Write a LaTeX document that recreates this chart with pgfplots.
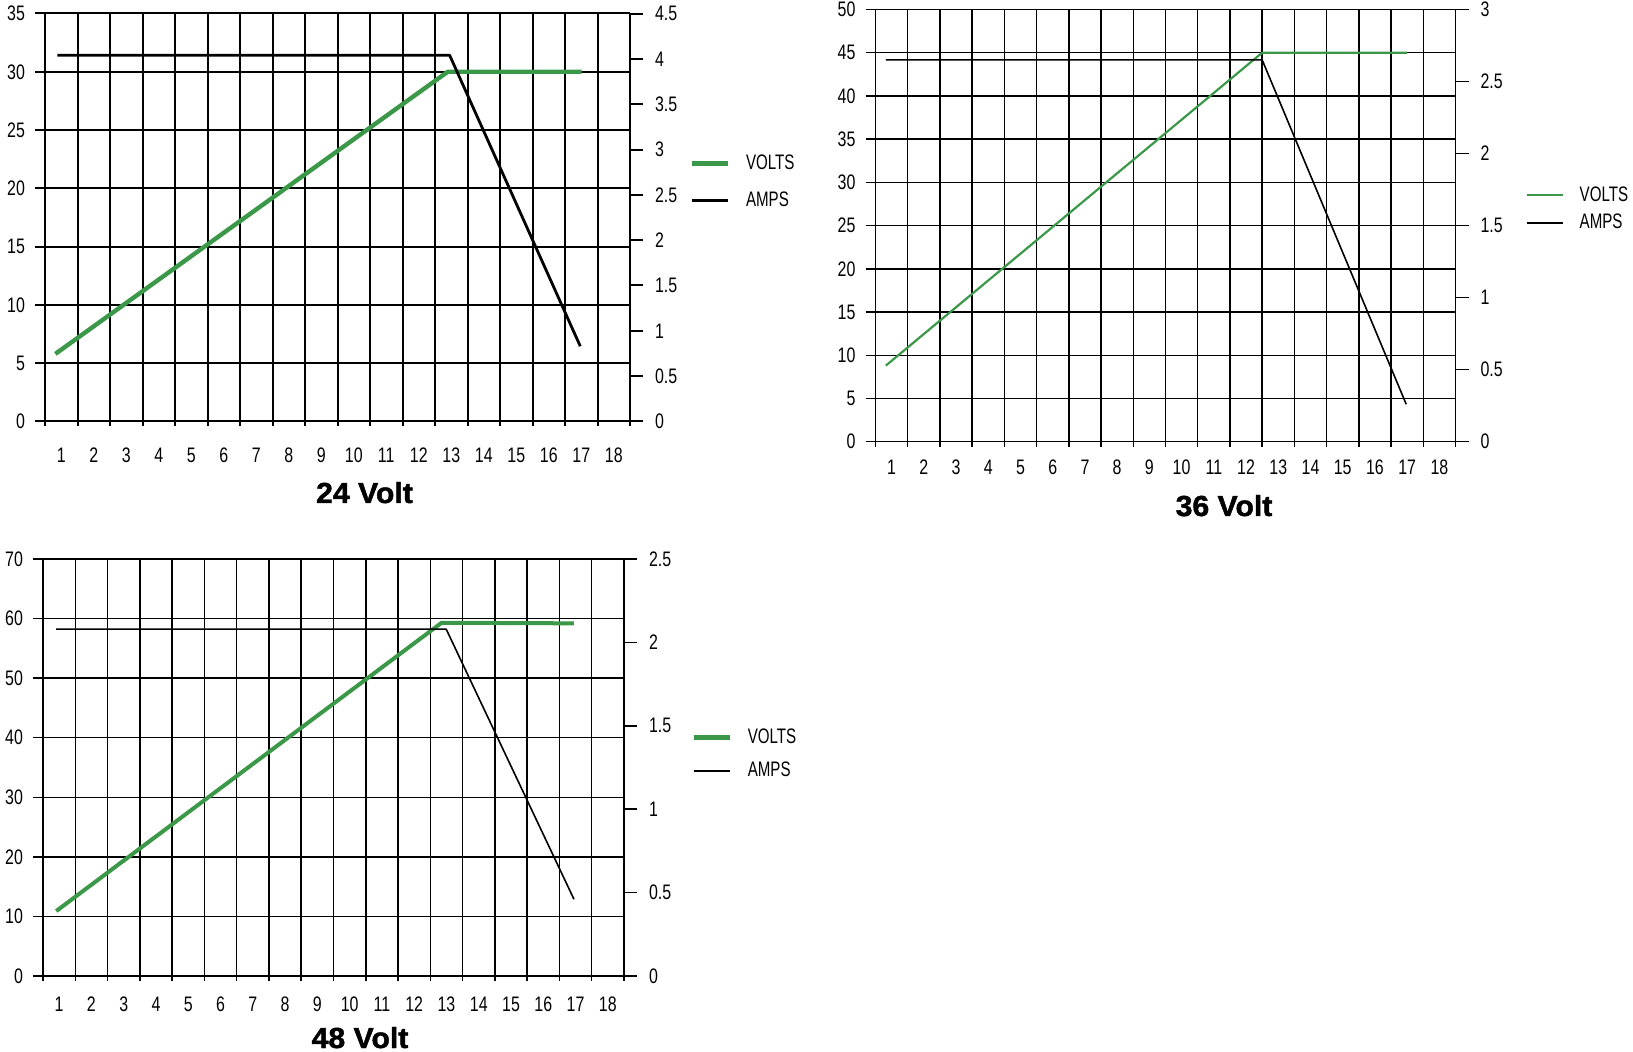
\documentclass[border=0pt]{standalone}
\usepackage{fontspec}
\setmainfont{Liberation Sans}
\newfontfamily\narrowfont[FakeStretch=0.76]{Liberation Sans}
\newfontfamily\legfont[FakeStretch=0.72]{Liberation Sans}
\newfontfamily\blackfont[BoldFeatures={FakeBold=1.6,FakeStretch=1.04}]{Liberation Sans}
\usepackage{pgfplots}
\pgfplotsset{compat=1.18}
\definecolor{vgreen}{RGB}{58,152,72}
\newcommand\tickfont{\narrowfont\fontsize{10.5}{12}\selectfont}
\newcommand\legendfont{\legfont\fontsize{10.5}{12}\selectfont}
\newcommand\titlefont{\blackfont\fontsize{14.5}{16}\selectfont\bfseries}

\pgfplotsset{
  legend image code/.code={\draw[#1] (0pt,0pt) -- (18pt,0pt);},
  base/.style={scale only axis, anchor=south west, xmin=0.5, xmax=18.5, ymin=0,
    tick label style={font=\tickfont}, /pgf/number format/assume math mode=true,
    axis line style={-}, tick align=outside},
  leftax/.style={base, axis x line*=bottom, axis y line*=left,
    xtick={1,...,18}, major x tick style={draw=none},
    minor xtick={0.5,1.5,...,18.5}, xminorgrids=true, ymajorgrids=true,
    major tick length=5pt, minor tick length=2.5pt,
    yticklabel style={xshift=-1.5pt}},
  rightax/.style={base, axis x line=none, axis y line*=right, major tick length=6.5pt,
    yticklabel style={xshift=2.5pt, /pgf/number format/fixed},
    legend style={draw=none, fill=none, anchor=west, font=\legendfont, column sep=6pt},
    legend cell align=left},
  lw/.style={axis line style={line width=#1, black}, major grid style={line width=#1, black},
    minor grid style={line width=#1, black}, tick style={line width=#1, black}},
}

\begin{document}
\begin{tikzpicture}
\path[use as bounding box] (0pt,0pt) rectangle (816.5pt,525.5pt);

% ---------------- 24 Volt ----------------
\begin{axis}[leftax, lw=1pt, at={(22.5pt,314.75pt)}, width=292.5pt, height=204pt,
  ymax=35, ytick={0,5,...,35}, xticklabel style={yshift=-4.5pt}]
\addplot[vgreen, line width=2.2pt, line join=round] coordinates {(0.82,5.8) (12.89,30) (17.01,30)};
\end{axis}
\begin{axis}[rightax, lw=1pt, at={(22.5pt,314.75pt)}, width=292.5pt, height=204pt,
  ymax=4.5, ytick={0,0.5,...,4.5},
  legend style={at={(axis description cs:1.09,0.587)}, row sep=6pt}]
\addlegendimage{vgreen, line width=2.5pt}
\addlegendentry{VOLTS}
\addplot[black, line width=1.4pt, line join=round] coordinates {(0.88,4.04) (12.95,4.04) (16.97,0.83)};
\addlegendentry{AMPS}
\end{axis}
\node[font=\titlefont, anchor=base] at (182.25pt,274pt) {24 Volt};

% ---------------- 36 Volt ----------------
\begin{axis}[leftax, lw=0.7pt, at={(437.75pt,304.65pt)}, width=290pt, height=216.1pt,
  ymax=50, ytick={0,5,...,50}, xticklabel style={yshift=-0.5pt}]
\addplot[vgreen, line width=1.1pt, line join=round] coordinates {(0.82,8.8) (12.5,45) (17.0,45)};
\end{axis}
\begin{axis}[rightax, lw=0.7pt, at={(437.75pt,304.65pt)}, width=290pt, height=216.1pt,
  ymax=3, ytick={0,0.5,...,3},
  legend style={at={(axis description cs:1.11,0.538)}, row sep=1pt}]
\addlegendimage{vgreen, line width=1pt}
\addlegendentry{VOLTS}
\addplot[black, line width=0.8pt, line join=round] coordinates {(0.82,2.65) (12.5,2.65) (16.97,0.26)};
\addlegendentry{AMPS}
\end{axis}
\node[font=\titlefont, anchor=base] at (612pt,267.5pt) {36 Volt};

% ---------------- 48 Volt ----------------
\begin{axis}[leftax, lw=0.75pt, at={(21.5pt,37.5pt)}, width=290.5pt, height=208.5pt,
  ymax=70, ytick={0,10,...,70}, xticklabel style={yshift=-1.8pt}]
\addplot[vgreen, line width=2pt, line join=round] coordinates {(0.91,10.9) (12.85,59.3) (16.95,59.2)};
\end{axis}
\begin{axis}[rightax, lw=0.75pt, at={(21.5pt,37.5pt)}, width=290.5pt, height=208.5pt,
  ymax=2.5, ytick={0,0.5,...,2.5},
  legend style={at={(axis description cs:1.105,0.532)}, row sep=4pt}]
\addlegendimage{vgreen, line width=2.2pt}
\addlegendentry{VOLTS}
\addplot[black, line width=0.8pt, line join=round] coordinates {(0.91,2.08) (12.99,2.08) (16.95,0.46)};
\addlegendentry{AMPS}
\end{axis}
\node[font=\titlefont, anchor=base] at (180pt,1.5pt) {48 Volt};
\end{tikzpicture}
\end{document}
